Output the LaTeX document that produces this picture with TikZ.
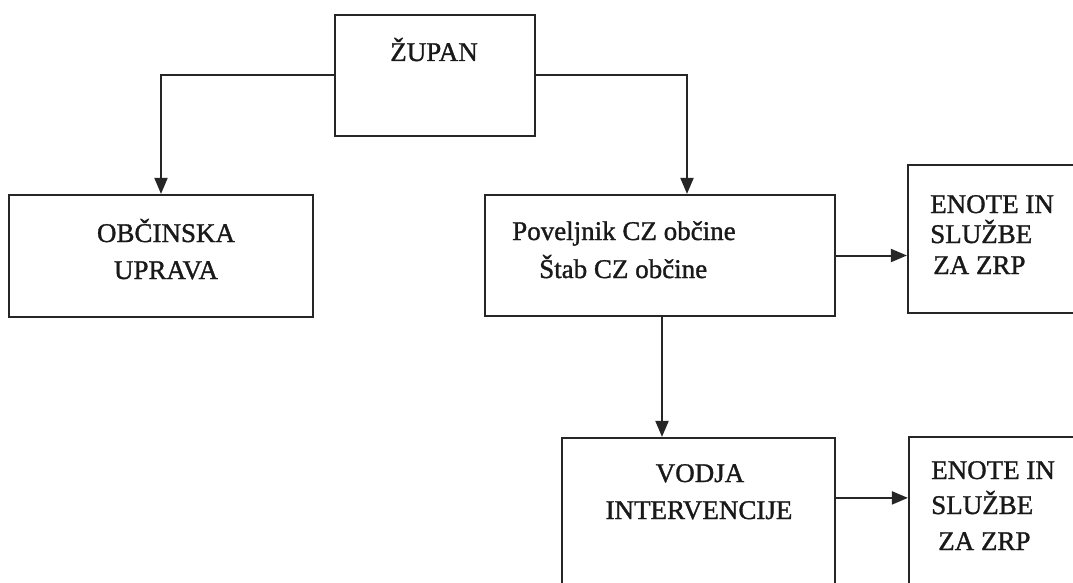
\documentclass[tikz,border=0pt]{standalone}
\usepackage{fontspec}
\setmainfont{Liberation Serif}
\newfontfamily\heavyserif[BoldFont=Liberation Serif,BoldFeatures={FakeBold=1.2}]{Liberation Serif}
\usetikzlibrary{arrows.meta}
\begin{document}
\begin{tikzpicture}[x=1pt,y=-1pt,
  box/.style={draw=black!85,line width=2.2pt,rectangle,inner sep=0pt,minimum width=#1},
  txt/.style={inner sep=0pt,font=\heavyserif\bfseries\fontsize{27}{30}\selectfont,text=black!90},
  arr/.style={draw=black!85,line width=2pt,-{Triangle[length=16pt,width=13pt]}}]
\useasboundingbox (0,0) rectangle (1073,583);
\clip (0,0) rectangle (1073,583);
\fill[white] (0,0) rectangle (1073,583);
% boxes
\node[box=200pt,minimum height=121pt] (zupan) at (435,75.5) {};
\node[box=304pt,minimum height=122pt] (obc) at (161,256) {};
\node[box=350pt,minimum height=121pt] (pov) at (660,255.5) {};
\node[box=192pt,minimum height=148pt] (en1) at (1004,239) {};
\node[box=273pt,minimum height=202pt] (vod) at (698.5,539) {};
\node[box=191pt,minimum height=203pt] (en2) at (1004.5,538.5) {};
% texts
\node[txt,anchor=base] (t1) at (434,61) {ŽUPAN};
\node[txt,anchor=base] (t2) at (166,242) {OBČINSKA};
\node[txt,anchor=base] (t3) at (166,279) {UPRAVA};
\node[txt,anchor=base west] (t4) at (512,240) {Poveljnik CZ občine};
\node[txt,anchor=base west] (t5) at (539,278) {Štab CZ občine};
\node[txt,anchor=base west] (t6) at (930,213) {ENOTE IN};
\node[txt,anchor=base west] (t7) at (930,243) {SLUŽBE};
\node[txt,anchor=base west] (t8) at (933,274) {ZA ZRP};
\node[txt,anchor=base] (t9) at (700,482) {VODJA};
\node[txt,anchor=base] (t10) at (699,519) {INTERVENCIJE};
\node[txt,anchor=base west] (t11) at (931,479) {ENOTE IN};
\node[txt,anchor=base west] (t12) at (931,514) {SLUŽBE};
\node[txt,anchor=base west] (t13) at (938,550) {ZA ZRP};
% connectors
\draw[arr] (zupan.west) -| (obc.north);
\draw[arr] (zupan.east) -| ([xshift=27pt]pov.north);
\draw[arr] (pov.east) -- (pov.east -| en1.west);
\draw[arr] ([xshift=2pt]pov.south) -- ([xshift=2pt]pov.south |- vod.north);
\draw[arr] ([yshift=-61pt]vod.north east) -- ([yshift=-61pt]vod.north east -| en2.west);
\end{tikzpicture}
\end{document}
